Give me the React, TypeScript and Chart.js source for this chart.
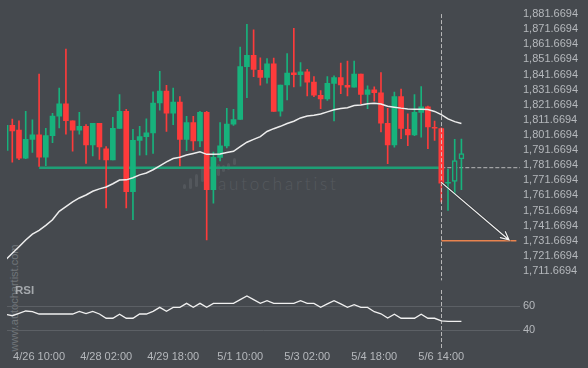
import React, { useEffect, useRef } from "react";
import { Chart, registerables } from "chart.js";

Chart.register(...registerables);

// ---------- data ----------
const opens = [
  1791.49, 1807.99, 1804.9, 1786.36, 1798.72, 1801.81, 1786.98, 1801.2, 1814.17, 1822.21,
  1811.08, 1804.9, 1807.38, 1795.02, 1809.41, 1792.54, 1785.13, 1805.95, 1817.26, 1764.12,
  1798.11, 1800.58, 1803.05, 1822.83, 1830.67, 1816.03, 1823.44, 1798.72, 1809.85, 1797.67,
  1816.65, 1765.54, 1786.8, 1794.4, 1808.8, 1811.89, 1846.93, 1854.34, 1844.46, 1839.7,
  1848.78, 1817.45, 1834.75, 1842.79, 1841.55, 1843.4, 1836.61, 1827.95, 1825.48, 1835.8,
  1839.7, 1834.57, 1833.33, 1841.98, 1828.57, 1831.48, 1829.62, 1809.41, 1795.02, 1827.15,
  1805.34, 1801.63, 1816.65, 1820.35, 1806.76, 1805.95, 1769.68, 1770.91, 1785.74,
];
const closes = [
  1807.99, 1804.29, 1786.36, 1798.72, 1801.81, 1786.98, 1801.2, 1814.17, 1822.21, 1811.08,
  1804.9, 1807.38, 1795.02, 1809.41, 1793.78, 1785.13, 1806.14, 1817.26, 1764.12, 1798.11,
  1800.58, 1803.05, 1822.83, 1830.67, 1816.03, 1823.44, 1798.72, 1809.85, 1797.67, 1816.65,
  1765.54, 1786.8, 1794.4, 1808.8, 1811.89, 1846.93, 1854.34, 1845.07, 1839.7, 1848.78,
  1817.26, 1834.75, 1842.6, 1841.55, 1843.4, 1836.61, 1827.95, 1825.48, 1835.8, 1839.7,
  1834.75, 1833.33, 1841.98, 1828.57, 1831.48, 1829.62, 1809.41, 1795.02, 1827.15, 1805.95,
  1801.63, 1816.65, 1820.35, 1806.94, 1806.14, 1769.68, 1770.3, 1784.69, 1789.27,
];
const highs = [
  1807.99, 1812.13, 1811.08, 1817.26, 1811.7, 1841.98, 1806.14, 1816.03, 1832.71, 1858.48,
  1811.08, 1816.65, 1808.61, 1809.41, 1809.41, 1793.96, 1813.37, 1828.39, 1818.68, 1805.34,
  1807.38, 1812.32, 1830.24, 1843.84, 1834.57, 1832.71, 1827.15, 1813.99, 1813.99, 1817.26,
  1817.26, 1790.26, 1809.85, 1819.3, 1818.68, 1859.91, 1874.92, 1871.21, 1852.67, 1852.3,
  1852.49, 1834.75, 1855.58, 1872.27, 1849.58, 1845.07, 1840.31, 1831.04, 1840.31, 1840.75,
  1849.21, 1850.64, 1850.64, 1841.98, 1834.13, 1833.52, 1843.03, 1819.3, 1830.06, 1832.1,
  1815.59, 1828.39, 1833.76, 1820.79, 1810.9, 1806.32, 1779.13, 1798.72, 1798.91,
];
const lows = [
  1791.49, 1783.71, 1785.31, 1786.05, 1790.07, 1780.8, 1781.42, 1796.56, 1806.32, 1802.12,
  1790.87, 1802.12, 1782.84, 1787.78, 1785.44, 1753.42, 1785.13, 1805.95, 1753.42, 1745.58,
  1788.22, 1788.53, 1789.45, 1818.07, 1803.98, 1808.43, 1781.11, 1791.31, 1791.62, 1793.96,
  1732.16, 1756.51, 1784.51, 1793.16, 1807.99, 1811.89, 1826.35, 1840.31, 1834.57, 1835.99,
  1817.26, 1814.17, 1824.86, 1833.52, 1833.95, 1827.58, 1826.97, 1819.12, 1824.49, 1810.9,
  1829.01, 1827.58, 1833.33, 1822.21, 1819.12, 1824.06, 1803.67, 1782.66, 1793.59, 1799.16,
  1794.58, 1801.2, 1800.14, 1792.54, 1798.11, 1757.32, 1751.76, 1762.88, 1765.54,
];
const hollowCandles = [67, 68];

const maValues = [
  1719.0, 1723.33, 1727.65, 1732.16, 1736.0, 1738.47, 1741.87, 1745.58, 1751.14, 1754.23,
  1757.32, 1759.97, 1761.95, 1764.42, 1765.97, 1767.21, 1769.37, 1771.84, 1771.96, 1773.39,
  1775.24, 1776.48, 1778.64, 1781.23, 1783.89, 1786.05, 1786.98, 1788.4, 1789.45, 1790.5,
  1788.84, 1788.84, 1789.14, 1790.07, 1790.87, 1793.96, 1796.87, 1798.72, 1800.58, 1803.98,
  1805.83, 1807.38, 1809.23, 1810.77, 1812.94, 1814.17, 1814.79, 1815.59, 1816.95, 1818.31,
  1819.12, 1819.74, 1821.16, 1821.47, 1822.39, 1822.64, 1822.21, 1820.66, 1820.04, 1819.43,
  1818.93, 1818.68, 1818.68, 1818.5, 1817.26, 1815.1, 1812.32, 1810.47, 1809.23,
];

const rsiValues = [
  53.2, 52.0, 54.0, 55.9, 55.3, 53.4, 53.4, 53.4, 53.4, 53.4,
  53.4, 55.6, 53.7, 55.6, 53.4, 49.9, 49.9, 53.2, 49.9, 49.9,
  53.4, 53.4, 55.6, 58.9, 55.6, 58.9, 58.9, 62.2, 58.9, 62.2,
  58.9, 62.2, 62.2, 62.2, 62.2, 65.2, 68.2, 65.2, 62.2, 64.4,
  62.2, 62.2, 62.2, 62.2, 64.4, 62.2, 62.2, 58.9, 61.7, 64.4,
  61.7, 58.9, 61.1, 58.9, 58.9, 55.3, 53.6, 50.1, 53.2, 49.9,
  49.9, 49.9, 53.2, 49.9, 49.9, 47.7, 47.4, 47.4, 47.4,
];

const priceTicks = [
  1711.6694, 1721.6694, 1731.6694, 1741.6694, 1751.6694, 1761.6694, 1771.6694, 1781.6694, 1791.6694,
  1801.6694, 1811.6694, 1821.6694, 1831.6694, 1841.6694, 1851.6694, 1861.6694, 1871.6694, 1881.6694,
];
const rsiTicks = [40, 60];
const timeTickIndex = [5, 15, 25, 35, 45, 55, 65];
const timeTickLabels = ["4/26 10:00", "4/28 02:00", "4/29 18:00", "5/1 10:00", "5/3 02:00", "5/4 18:00", "5/6 14:00"];

const supportLevel = 1780.0;
const supportStartIndex = 5;
const signalIndex = 65;
const arrowStartLevel = 1770.3;
const arrowEndIndex = 75.1;
const arrowEndLevel = 1732.2;
const targetLevel = 1731.6694;
const targetEndIndex = 76.2;

const xMin = 0.21;
const xMax = 76.74;
const priceMin = 1705.41;
const priceMax = 1884.64;
const rsiMin = 27.9;
const rsiMax = 73.17;

// ---------- style ----------
const BG = "#45494e";
const GREEN = "#17b27c";
const RED = "#fd3b3b";
const TEXT = "#b5b8bc";
const FONT = "'Liberation Sans', Arial, sans-serif";

const idx = opens.map((_, i) => i);
const candleColor = idx.map((i) => (closes[i] >= opens[i] ? GREEN : RED));

const vLinePlugin = (startAtTop: boolean, extraBottom: number) => ({
  id: "vline",
  afterDatasetsDraw(chart: any) {
    const { ctx, chartArea, scales } = chart;
    const x = Math.round(scales.x.getPixelForValue(signalIndex)) + 0.5;
    const y0 = startAtTop ? scales.y.getPixelForValue(priceTicks[priceTicks.length - 1]) : chartArea.top;
    const y1 = chartArea.bottom + extraBottom;
    ctx.save();
    ctx.strokeStyle = "rgba(210,210,210,0.8)";
    ctx.lineWidth = 1;
    ctx.setLineDash([4, 2]);
    ctx.beginPath();
    ctx.moveTo(x, y0);
    ctx.lineTo(x, y1);
    ctx.stroke();
    ctx.restore();
  },
});

const arrowPlugin = {
  id: "arrow",
  afterDatasetsDraw(chart: any) {
    const { ctx, scales } = chart;
    const x0 = scales.x.getPixelForValue(signalIndex);
    const y0 = scales.y.getPixelForValue(arrowStartLevel);
    const x1 = scales.x.getPixelForValue(arrowEndIndex);
    const y1 = scales.y.getPixelForValue(arrowEndLevel);
    const ang = Math.atan2(y1 - y0, x1 - x0);
    const head = 9;
    const path = () => {
      ctx.beginPath();
      ctx.moveTo(x0, y0);
      ctx.lineTo(x1, y1);
      ctx.moveTo(x1 - head * Math.cos(ang - 0.45), y1 - head * Math.sin(ang - 0.45));
      ctx.lineTo(x1, y1);
      ctx.lineTo(x1 - head * Math.cos(ang + 0.45), y1 - head * Math.sin(ang + 0.45));
    };
    ctx.save();
    ctx.lineCap = "round";
    ctx.strokeStyle = "rgba(30,30,30,0.35)";
    ctx.lineWidth = 2.6;
    path();
    ctx.stroke();
    ctx.strokeStyle = "#f2f2f2";
    ctx.lineWidth = 1.2;
    path();
    ctx.stroke();
    ctx.restore();
  },
};

const logoBars = [
  [184, 184, 189], [190, 178, 189], [196, 174, 187], [202, 167, 182], [207, 166, 180],
  [212, 165, 177], [218, 164, 176], [223, 165, 172], [228, 163, 170], [234, 158, 165],
];

export default function App() {
  const refA = useRef<HTMLCanvasElement>(null);
  const refB = useRef<HTMLCanvasElement>(null);

  useEffect(() => {
    document.body.style.margin = "0";
    const xScaleBase = {
      type: "linear" as const,
      min: xMin,
      max: xMax,
      offset: false,
    };

    const priceChart = new Chart(refA.current!, {
      type: "bar",
      data: {
        datasets: [
          {
            type: "line",
            label: "ma",
            data: idx.map((i) => ({ x: i, y: maValues[i] })),
            borderColor: "#ededed",
            borderWidth: 1.5,
            pointRadius: 0,
            tension: 0,
            order: 0,
          } as any,
          {
            type: "line",
            label: "support",
            data: [
              { x: supportStartIndex, y: supportLevel },
              { x: signalIndex, y: supportLevel },
            ],
            borderColor: "#1e9f76",
            borderWidth: 2.6,
            pointRadius: 0,
            order: 3,
          } as any,
          {
            type: "line",
            label: "support-ext",
            data: [
              { x: signalIndex, y: supportLevel },
              { x: xMax, y: supportLevel },
            ],
            borderColor: "rgba(205,205,205,0.85)",
            borderWidth: 1,
            borderDash: [4, 2],
            pointRadius: 0,
            order: 3,
          } as any,
          {
            type: "line",
            label: "target",
            data: [
              { x: signalIndex, y: targetLevel },
              { x: targetEndIndex, y: targetLevel },
            ],
            borderColor: "#e8834f",
            borderWidth: 1.5,
            pointRadius: 0,
            order: 3,
          } as any,
          {
            type: "bar",
            label: "wick",
            data: idx.map((i) => ({ x: i, y: [lows[i], highs[i]] })),
            backgroundColor: candleColor,
            barThickness: 1,
            grouped: false,
            minBarLength: 1,
            order: 2,
          } as any,
          {
            type: "bar",
            label: "body",
            data: idx.map((i) => ({
              x: i,
              y: [Math.min(opens[i], closes[i]), Math.max(opens[i], closes[i])],
            })),
            backgroundColor: idx.map((i) => (hollowCandles.includes(i) ? BG : candleColor[i])),
            borderColor: candleColor,
            borderWidth: idx.map((i) => (hollowCandles.includes(i) ? 1.5 : 0)),
            borderSkipped: false,
            barThickness: 5,
            grouped: false,
            minBarLength: 1,
            order: 1,
          } as any,
        ],
      },
      options: {
        animation: false,
        responsive: false,
        devicePixelRatio: 1,
        layout: { padding: { left: 7, top: 0, right: 0, bottom: 0 }, autoPadding: false } as any,
        plugins: { legend: { display: false }, tooltip: { enabled: false } },
        scales: {
          x: { ...xScaleBase, display: false },
          y: {
            position: "right",
            min: priceMin,
            max: priceMax,
            grid: { display: false, drawTicks: false },
            border: { display: false },
            afterBuildTicks: (s: any) => {
              s.ticks = priceTicks.map((v) => ({ value: v }));
            },
            afterFit: (s: any) => {
              s.width = 68;
            },
            ticks: {
              color: TEXT,
              padding: 3,
              autoSkip: false,
              font: { size: 11, family: FONT },
              callback: (v: any) =>
                Number(v).toLocaleString("en-US", { minimumFractionDigits: 4, maximumFractionDigits: 4 }),
            },
          } as any,
        },
      },
      plugins: [vLinePlugin(true, 0), arrowPlugin],
    });

    const rsiChart = new Chart(refB.current!, {
      type: "line",
      data: {
        datasets: [
          {
            label: "RSI",
            data: idx.map((i) => ({ x: i, y: rsiValues[i] })),
            borderColor: "#f0f0f0",
            borderWidth: 1.3,
            pointRadius: 0,
            tension: 0,
          },
        ],
      },
      options: {
        animation: false,
        responsive: false,
        devicePixelRatio: 1,
        layout: { padding: { left: 7, top: 10, right: 0, bottom: 0 }, autoPadding: false } as any,
        plugins: { legend: { display: false }, tooltip: { enabled: false } },
        scales: {
          x: {
            ...xScaleBase,
            grid: { display: false, drawTicks: false },
            border: { display: false },
            afterBuildTicks: (s: any) => {
              s.ticks = timeTickIndex.map((v) => ({ value: v }));
            },
            afterFit: (s: any) => {
              s.height = 23;
            },
            ticks: {
              color: TEXT,
              padding: 5,
              maxRotation: 0,
              autoSkip: false,
              font: { size: 11, family: FONT },
              callback: (v: any) => {
                const k = timeTickIndex.indexOf(Number(v));
                return k >= 0 ? timeTickLabels[k] : "";
              },
            },
          } as any,
          y: {
            position: "right",
            min: rsiMin,
            max: rsiMax,
            grid: { color: "#5c6065", drawTicks: false, lineWidth: 1 },
            border: { display: false },
            afterBuildTicks: (s: any) => {
              s.ticks = rsiTicks.map((v) => ({ value: v }));
            },
            afterFit: (s: any) => {
              s.width = 68;
            },
            ticks: { color: TEXT, padding: 3, autoSkip: false, font: { size: 11, family: FONT } },
          } as any,
        },
      },
      plugins: [vLinePlugin(false, 5)],
    });

    return () => {
      priceChart.destroy();
      rsiChart.destroy();
    };
  }, []);

  return (
    <div
      style={{
        position: "relative",
        width: 588,
        height: 368,
        background: BG,
        overflow: "hidden",
        fontFamily: FONT,
      }}
    >
      {logoBars.map(([x, t, b], k) => (
        <div
          key={k}
          style={{
            position: "absolute",
            left: x - 1.5,
            top: t,
            width: 3,
            height: b - t,
            borderRadius: 1.5,
            background: "#53575c",
          }}
        />
      ))}
      <div
        style={{
          position: "absolute",
          left: 218,
          top: 175,
          fontFamily: "Lato, sans-serif",
          fontWeight: 300,
          fontSize: 17,
          lineHeight: "17px",
          letterSpacing: 2.8,
          color: "#55595e",
          whiteSpace: "nowrap",
        }}
      >
        autochartist
      </div>
      <div
        style={{
          position: "absolute",
          left: 13.5 - 60,
          top: 297.5 - 7,
          width: 120,
          height: 14,
          lineHeight: "14px",
          textAlign: "center",
          transform: "rotate(-90deg)",
          fontSize: 11,
          color: "#70757a",
          whiteSpace: "nowrap",
        }}
      >
        www.autochartist.com
      </div>
      <canvas ref={refA} width={588} height={290} style={{ position: "absolute", left: 0, top: 0 }} />
      <canvas ref={refB} width={588} height={88} style={{ position: "absolute", left: 0, top: 280 }} />
      <div
        style={{
          position: "absolute",
          left: 15,
          top: 284,
          fontSize: 11.5,
          fontWeight: "bold",
          color: "#a4a8ac",
        }}
      >
        RSI
      </div>
    </div>
  );
}
